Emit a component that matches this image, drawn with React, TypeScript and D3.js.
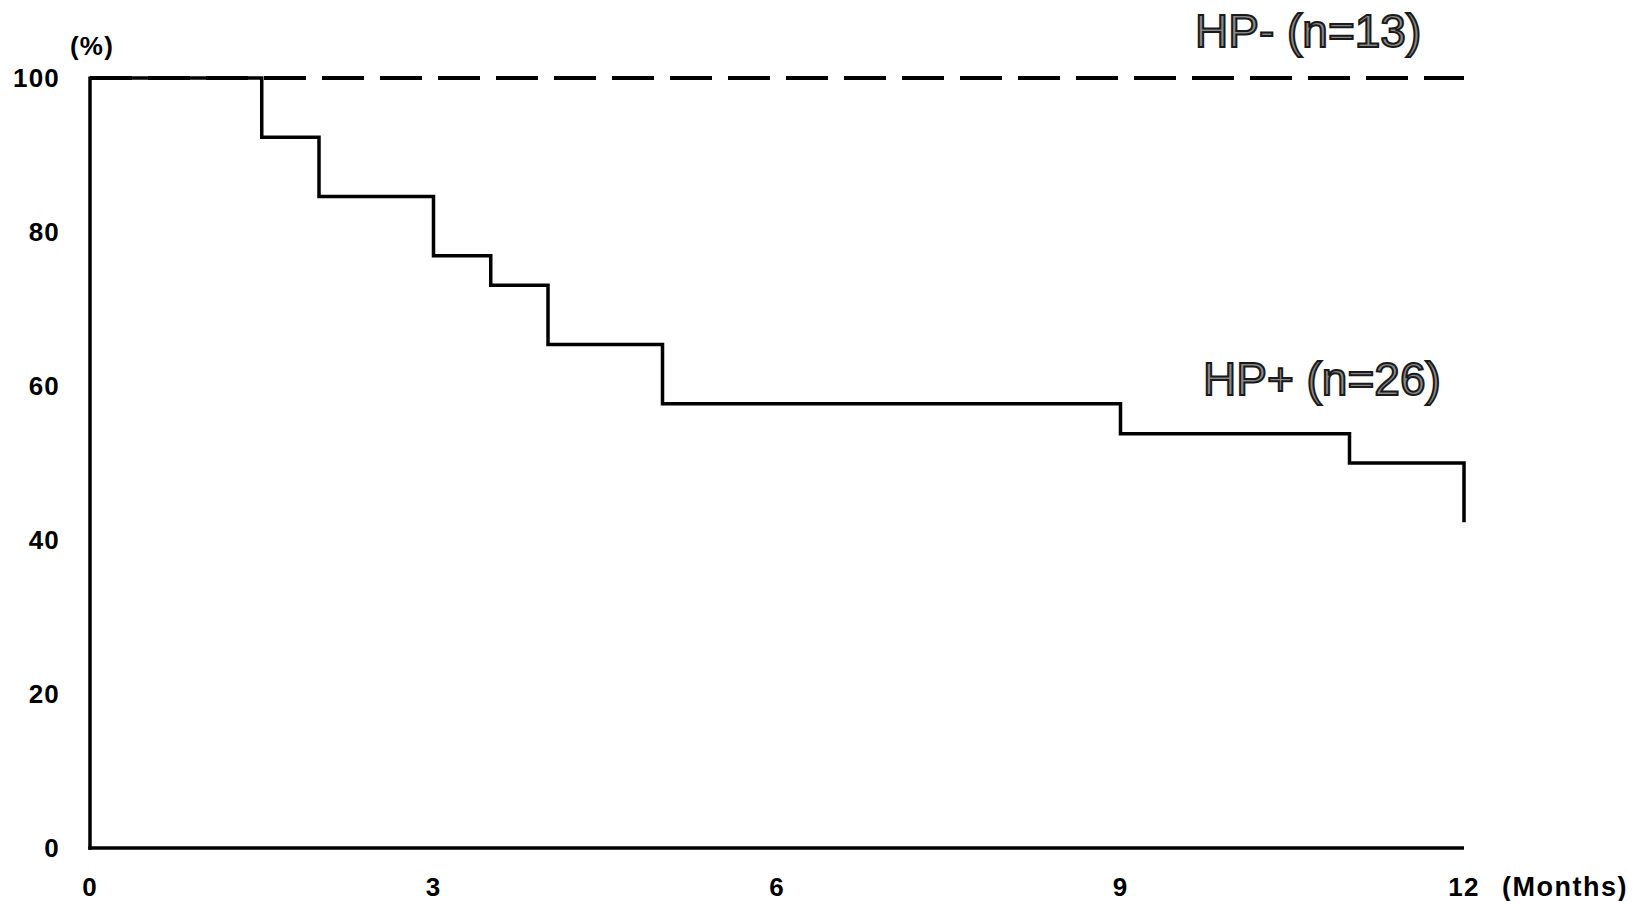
import React from "react";
import * as d3 from "d3";

const hpPlusMonths = [0, 1.5, 2, 3, 3.5, 4, 5, 9, 11, 12];
const hpPlusSurvival = [100, 92.3, 84.6, 76.9, 73.1, 65.4, 57.7, 53.8, 50, 42.3];
const hpMinusMonths = [0, 12];
const hpMinusSurvival = [100, 100];
const xTicks = [0, 3, 6, 9, 12];
const yTicks = [0, 20, 40, 60, 80, 100];
const hpPlusLabel = "HP+ (n=26)";
const hpMinusLabel = "HP- (n=13)";

const W = 1645;
const H = 901;
const M = { left: 90, right: 1464, top: 78, bottom: 848 };

export default function App() {
  const x = d3.scaleLinear().domain([0, 12]).range([M.left, M.right]);
  const y = d3.scaleLinear().domain([0, 100]).range([M.bottom, M.top]);
  const line = d3
    .line<[number, number]>()
    .x((d) => x(d[0]))
    .y((d) => y(d[1]))
    .curve(d3.curveStepAfter);
  const plusPts = hpPlusMonths.map((m, i) => [m, hpPlusSurvival[i]] as [number, number]);
  const minusPts = hpMinusMonths.map((m, i) => [m, hpMinusSurvival[i]] as [number, number]);
  const font = "'Liberation Sans', Arial, Helvetica, sans-serif";

  return (
    <svg
      width={W}
      height={H}
      style={{ position: "absolute", left: 0, top: 0, background: "#fff" }}
      fontFamily={font}
    >
      <rect x={0} y={0} width={W} height={H} fill="#fff" />
      {/* axes */}
      <line x1={M.left} x2={M.left} y1={M.top - 1.5} y2={M.bottom + 1.75} stroke="#000" strokeWidth={3.5} />
      <line x1={M.left - 1.75} x2={M.right} y1={M.bottom} y2={M.bottom} stroke="#000" strokeWidth={3.5} />
      {/* HP- dashed */}
      <path d={line(minusPts) || ""} fill="none" stroke="#000" strokeWidth={4} strokeDasharray="42 16" />
      {/* HP+ solid step */}
      <path d={line(plusPts) || ""} fill="none" stroke="#000" strokeWidth={3.5} strokeLinejoin="miter" />
      {/* y tick labels */}
      {yTicks.map((t) => (
        <text key={"y" + t} x={60} y={y(t)} dy="0.36em" textAnchor="end" fontSize={26} fontWeight="bold" letterSpacing={1.2} fill="#000">
          {t}
        </text>
      ))}
      {/* x tick labels */}
      {xTicks.map((t) => (
        <text key={"x" + t} x={x(t)} y={896} textAnchor="middle" fontSize={26} fontWeight="bold" letterSpacing={1.2} fill="#000">
          {t}
        </text>
      ))}
      <text x={92} y={55} textAnchor="middle" fontSize={26} fontWeight="bold" letterSpacing={1.2} fill="#000">
        (%)
      </text>
      <text x={1502} y={896} fontSize={27} fontWeight="bold" letterSpacing={1.5} fill="#000">
        (Months)
      </text>
      {/* series labels */}
      <text x={1195} y={47} fontSize={46} fill="#8a8a8a" stroke="#1a1a1a" strokeWidth={2}>
        {hpMinusLabel}
      </text>
      <text x={1203} y={395} fontSize={46} fill="#8a8a8a" stroke="#1a1a1a" strokeWidth={2}>
        {hpPlusLabel}
      </text>
    </svg>
  );
}
